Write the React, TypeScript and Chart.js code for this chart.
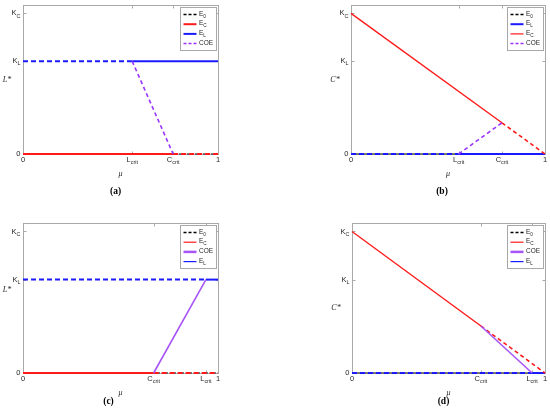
import React, { useEffect, useRef } from "react";
import { Chart, registerables } from "chart.js";

Chart.register(...registerables);

// ---- values (x = μ in [0,1], y in units of K_C) ----
const yLevelValues = [0, 0.66, 1]; // 0, K_L, K_C
const yLevelLabels: [string, string][] = [["0", ""], ["K", "L"], ["K", "C"]];
const Y_MAX = 1.06;

// panel (a)
const aTicks = [0, 0.56, 0.77, 1];
const aTickLabels: [string, string][] = [["0", ""], ["L", "crit"], ["C", "crit"], ["1", ""]];
const aE0 = [{ x: 0, y: 0 }, { x: 1, y: 0 }];
const aECsolid = [{ x: 0, y: 0 }, { x: 0.77, y: 0 }];
const aECdash = [{ x: 0.77, y: 0 }, { x: 1, y: 0 }];
const aELdash = [{ x: 0, y: 0.66 }, { x: 0.56, y: 0.66 }];
const aELsolid = [{ x: 0.56, y: 0.66 }, { x: 1, y: 0.66 }];
const aCOE = [{ x: 0.56, y: 0.66 }, { x: 0.77, y: 0 }];

// panel (b)
const bTicks = [0, 0.555, 0.778, 1];
const bTickLabels: [string, string][] = [["0", ""], ["L", "crit"], ["C", "crit"], ["1", ""]];
const bE0 = [{ x: 0, y: 0 }, { x: 1, y: 0 }];
const bELdash = [{ x: 0, y: 0 }, { x: 0.555, y: 0 }];
const bELsolid = [{ x: 0.555, y: 0 }, { x: 1, y: 0 }];
const bECsolid = [{ x: 0, y: 1 }, { x: 0.778, y: 0.222 }];
const bECdash = [{ x: 0.778, y: 0.222 }, { x: 1, y: 0 }];
const bCOE = [{ x: 0.555, y: 0 }, { x: 0.778, y: 0.222 }];

// panel (c)
const cTicks = [0, 0.67, 0.938, 1];
const cTickLabels: [string, string][] = [["0", ""], ["C", "crit"], ["L", "crit"], ["1", ""]];
const cE0 = [{ x: 0, y: 0 }, { x: 1, y: 0 }];
const cECsolid = [{ x: 0, y: 0 }, { x: 0.67, y: 0 }];
const cECdash = [{ x: 0.67, y: 0 }, { x: 1, y: 0 }];
const cCOE = [{ x: 0.67, y: 0 }, { x: 0.938, y: 0.66 }];
const cELdash = [{ x: 0, y: 0.66 }, { x: 0.938, y: 0.66 }];
const cELsolid = [{ x: 0.938, y: 0.66 }, { x: 1, y: 0.66 }];

// panel (d)
const dTicks = [0, 0.668, 0.933, 1];
const dTickLabels: [string, string][] = [["0", ""], ["C", "crit"], ["L", "crit"], ["1", ""]];
const dE0 = [{ x: 0, y: 0 }, { x: 1, y: 0 }];
const dECsolid = [{ x: 0, y: 1 }, { x: 0.668, y: 0.332 }];
const dECdash = [{ x: 0.668, y: 0.332 }, { x: 1, y: 0 }];
const dCOE = [{ x: 0.668, y: 0.332 }, { x: 0.933, y: 0 }];
const dELdash = [{ x: 0, y: 0 }, { x: 0.933, y: 0 }];
const dELsolid = [{ x: 0.933, y: 0 }, { x: 1, y: 0 }];

// ---- styles ----
const BLACK = "#000000";
const RED = "#ff1a1a";
const BLUE = "#1a1aff";
const PURPLE = "#9933ff";
const PURPLE_SOLID = "#a855f7";
const AXIS = "#a8a8a8";
const TEXT = "#262626";
const SANS = '"Liberation Sans", Arial, sans-serif';
const SERIF = '"Liberation Serif", "Times New Roman", serif';

type Style = { color: string; width: number; dash: number[]; offset?: number };
const sE0: Style = { color: "#555555", width: 1.5, dash: [5, 3], offset: 4 };
const sRedSolidH: Style = { color: RED, width: 2, dash: [] };
const sRedDashH: Style = { color: RED, width: 2, dash: [5, 3] };
const sRedSolidD: Style = { color: RED, width: 1.4, dash: [] };
const sRedDashD: Style = { color: RED, width: 1.6, dash: [4, 3] };
const sBlueSolid: Style = { color: BLUE, width: 2, dash: [] };
const sBlueDash: Style = { color: BLUE, width: 2, dash: [5, 3] };
const sCOEdash: Style = { color: PURPLE, width: 1.6, dash: [4, 3] };
const sCOEsolid: Style = { color: PURPLE_SOLID, width: 1.6, dash: [] };

type Series = { data: { x: number; y: number }[]; style: Style };
type LegendItem = { main: string; sub: string; style: Style };

type PanelCfg = {
  left: number;
  top: number;
  pad: { left: number; right: number; top: number; bottom: number };
  ticks: number[];
  tickLabels: [string, string][];
  yTitle: string;
  yTitleDy: number;
  caption: string;
  captionDx: number;
  captionDy: number;
  series: Series[];
  legend: LegendItem[];
};

const legE0: LegendItem = { main: "E", sub: "0", style: { color: BLACK, width: 1.3, dash: [3, 2] } };
const legECthick: LegendItem = { main: "E", sub: "C", style: { color: RED, width: 2, dash: [] } };
const legELthick: LegendItem = { main: "E", sub: "L", style: { color: BLUE, width: 2, dash: [] } };
const legECthin: LegendItem = { main: "E", sub: "C", style: { color: RED, width: 1.2, dash: [] } };
const legELthin: LegendItem = { main: "E", sub: "L", style: { color: BLUE, width: 1.2, dash: [] } };
const legCOEdash: LegendItem = { main: "COE", sub: "", style: { color: PURPLE, width: 1.5, dash: [3, 2] } };
const legCOEsolid: LegendItem = { main: "COE", sub: "", style: { color: PURPLE_SOLID, width: 2.5, dash: [] } };

const panels: PanelCfg[] = [
  {
    left: 0, top: 0,
    pad: { left: 23, right: 57, top: 5, bottom: 55 },
    ticks: aTicks, tickLabels: aTickLabels,
    yTitle: "L*", yTitleDy: 0, caption: "(a)", captionDx: -5, captionDy: 38,
    series: [
      { data: aE0, style: sE0 },
      { data: aECsolid, style: sRedSolidH },
      { data: aECdash, style: sRedDashH },
      { data: aELdash, style: sBlueDash },
      { data: aELsolid, style: sBlueSolid },
      { data: aCOE, style: sCOEdash },
    ],
    legend: [legE0, legECthick, legELthick, legCOEdash],
  },
  {
    left: 275, top: 0,
    pad: { left: 76, right: 5, top: 5, bottom: 55 },
    ticks: bTicks, tickLabels: bTickLabels,
    yTitle: "C*", yTitleDy: 0, caption: "(b)", captionDx: -6, captionDy: 38,
    series: [
      { data: bE0, style: sE0 },
      { data: bELdash, style: sBlueDash },
      { data: bELsolid, style: sBlueSolid },
      { data: bECsolid, style: sRedSolidD },
      { data: bECdash, style: sRedDashD },
      { data: bCOE, style: sCOEdash },
    ],
    legend: [legE0, legELthick, legECthin, legCOEdash],
  },
  {
    left: 0, top: 209,
    pad: { left: 23, right: 57, top: 14, bottom: 45 },
    ticks: cTicks, tickLabels: cTickLabels,
    yTitle: "L*", yTitleDy: -8, caption: "(c)", captionDx: -12, captionDy: 29,
    series: [
      { data: cE0, style: sE0 },
      { data: cECsolid, style: sRedSolidH },
      { data: cECdash, style: sRedDashH },
      { data: cELdash, style: sBlueDash },
      { data: cELsolid, style: sBlueSolid },
      { data: cCOE, style: sCOEsolid },
    ],
    legend: [legE0, legECthin, legCOEsolid, legELthin],
  },
  {
    left: 275, top: 209,
    pad: { left: 77, right: 5, top: 14, bottom: 45 },
    ticks: dTicks, tickLabels: dTickLabels,
    yTitle: "C*", yTitleDy: 10, caption: "(d)", captionDx: -5, captionDy: 29,
    series: [
      { data: dE0, style: sE0 },
      { data: dELdash, style: sBlueDash },
      { data: dELsolid, style: sBlueSolid },
      { data: dECsolid, style: sRedSolidD },
      { data: dECdash, style: sRedDashD },
      { data: dCOE, style: sCOEsolid },
    ],
    legend: [legE0, legECthin, legCOEsolid, legELthin],
  },
];

function drawSubText(
  ctx: CanvasRenderingContext2D,
  x: number,
  y: number,
  main: string,
  sub: string,
  size: number,
  align: "left" | "center" | "right",
) {
  const mainFont = `${size}px ${SANS}`;
  const subFont = `${size * 0.72}px ${SANS}`;
  ctx.font = mainFont;
  const mw = ctx.measureText(main).width;
  ctx.font = subFont;
  const sw = sub ? ctx.measureText(sub).width : 0;
  const total = mw + sw;
  const x0 = align === "right" ? x - total : align === "center" ? x - total / 2 : x;
  ctx.textAlign = "left";
  ctx.textBaseline = "middle";
  ctx.font = mainFont;
  ctx.fillText(main, x0, y);
  if (sub) {
    ctx.font = subFont;
    ctx.fillText(sub, x0 + mw, y + size * 0.35);
  }
}

function makeDecor(cfg: PanelCfg) {
  return {
    id: "decor",
    beforeDatasetsDraw(chart: any) {
      const { ctx, chartArea: a, scales } = chart;
      ctx.save();
      ctx.strokeStyle = AXIS;
      ctx.lineWidth = 1;
      const L = Math.round(a.left) + 0.5;
      const R = Math.round(a.right) + 0.5;
      const T = Math.round(a.top) + 0.5;
      const B = Math.round(a.bottom) + 0.5;
      ctx.strokeRect(L, T, R - L, B - T);
      ctx.beginPath();
      cfg.ticks.forEach((v) => {
        const x = Math.round(scales.x.getPixelForValue(v)) + 0.5;
        ctx.moveTo(x, B);
        ctx.lineTo(x, B - 3);
        ctx.moveTo(x, T);
        ctx.lineTo(x, T + 3);
      });
      yLevelValues.forEach((v) => {
        const y = Math.round(scales.y.getPixelForValue(v)) + 0.5;
        ctx.moveTo(L, y);
        ctx.lineTo(L + 3, y);
        ctx.moveTo(R, y);
        ctx.lineTo(R - 3, y);
      });
      ctx.stroke();
      ctx.restore();
    },
    afterDraw(chart: any) {
      const { ctx, chartArea: a, scales } = chart;
      ctx.save();
      ctx.fillStyle = TEXT;
      // y tick labels
      yLevelValues.forEach((v, i) => {
        const y = scales.y.getPixelForValue(v);
        const [m, s] = yLevelLabels[i];
        drawSubText(ctx, a.left - 2.5, y, m, s, 7.5, "right");
      });
      // x tick labels
      cfg.ticks.forEach((v, i) => {
        const x = scales.x.getPixelForValue(v);
        const [m, s] = cfg.tickLabels[i];
        drawSubText(ctx, x, a.bottom + 5.5, m, s, 7.5, "center");
      });
      const cx = (a.left + a.right) / 2;
      const cy = (a.top + a.bottom) / 2;
      // axis titles
      ctx.textAlign = "center";
      ctx.textBaseline = "middle";
      ctx.font = `italic 8px ${SERIF}`;
      ctx.fillText("\u03bc", cx, a.bottom + 19.5);
      ctx.font = `italic 8px ${SERIF}`;
      ctx.fillText(cfg.yTitle, a.left - 16, cy + cfg.yTitleDy);
      // caption
      ctx.font = `bold 9.5px ${SERIF}`;
      ctx.fillStyle = "#000";
      ctx.fillText(cfg.caption, cx + cfg.captionDx, a.bottom + cfg.captionDy);
      // legend
      const bw = 36;
      const bh = 43;
      const bx = Math.round(a.right - 2 - bw) + 0.5;
      const by = Math.round(a.top + 2) + 0.5;
      ctx.fillStyle = "#ffffff";
      ctx.fillRect(bx, by, bw, bh);
      ctx.strokeStyle = AXIS;
      ctx.lineWidth = 1;
      ctx.setLineDash([]);
      ctx.strokeRect(bx, by, bw, bh);
      cfg.legend.forEach((item, i) => {
        const ry = by + 7 + i * 9.7;
        ctx.beginPath();
        ctx.strokeStyle = item.style.color;
        ctx.lineWidth = item.style.width;
        ctx.setLineDash(item.style.dash);
        ctx.moveTo(bx + 3, ry);
        ctx.lineTo(bx + 16, ry);
        ctx.stroke();
        ctx.setLineDash([]);
        ctx.fillStyle = TEXT;
        drawSubText(ctx, bx + 18.5, ry - 0.5, item.main, item.sub, 6.5, "left");
      });
      ctx.restore();
    },
  };
}

function Panel({ cfg }: { cfg: PanelCfg }) {
  const ref = useRef<HTMLCanvasElement | null>(null);
  useEffect(() => {
    if (!ref.current) return;
    const n = cfg.series.length;
    const chart = new Chart(ref.current, {
      type: "scatter",
      data: {
        datasets: cfg.series.map((s, i) => ({
          data: s.data,
          showLine: true,
          order: n - i, // later series are drawn on top
          borderColor: s.style.color,
          backgroundColor: s.style.color,
          borderWidth: s.style.width,
          borderDash: s.style.dash,
          borderDashOffset: s.style.offset ?? 0,
          borderCapStyle: "butt" as const,
          pointRadius: 0,
          pointHoverRadius: 0,
          fill: false,
          tension: 0,
          clip: 4,
        })),
      },
      options: {
        animation: false,
        responsive: false,
        devicePixelRatio: 1,
        layout: { padding: cfg.pad },
        plugins: { legend: { display: false }, tooltip: { enabled: false }, title: { display: false } },
        events: [],
        scales: {
          x: { type: "linear", min: 0, max: 1, display: false },
          y: { type: "linear", min: 0, max: Y_MAX, display: false },
        },
      },
      plugins: [makeDecor(cfg)],
    } as any);
    return () => chart.destroy();
  }, [cfg]);
  return (
    <canvas
      ref={ref}
      width={275}
      height={209}
      style={{ position: "absolute", left: cfg.left, top: cfg.top, width: 275, height: 209 }}
    />
  );
}

export default function App() {
  return (
    <div style={{ position: "absolute", left: 0, top: 0, width: 550, height: 418, background: "#fff" }}>
      {panels.map((p) => (
        <Panel key={p.caption} cfg={p} />
      ))}
    </div>
  );
}
